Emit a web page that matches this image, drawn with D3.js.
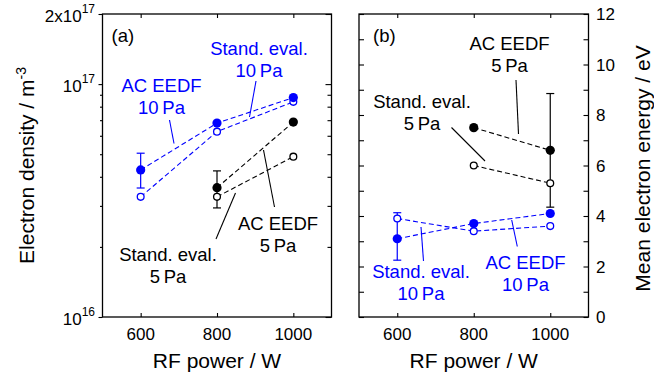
<!DOCTYPE html>
<html>
<head>
<meta charset="utf-8">
<script src="https://cdn.jsdelivr.net/npm/d3@7"></script>
<style>
  body { margin: 0; background: #fff; }
  svg { display: block; font-family: "Liberation Sans", Arial, sans-serif; }
</style>
</head>
<body>
<svg id="chart" width="654" height="379"></svg>
<script>
/* DATA */
const powers = [600, 800, 1000];
const powers5 = [800, 1000];
const xTicks = [600, 800, 1000];

// (a) electron density / m^-3
const neAc10 = [4.28e16, 6.80e16, 8.75e16];
const neStd10 = [3.28e16, 6.25e16, 8.39e16];
const neAc5 = [3.59e16, 6.87e16];
const neStd5 = [3.28e16, 4.88e16];
const neAc10Err = [[3.58e16, 5.05e16], null, null];
const neAc5Err = [[2.94e16, 4.24e16], null];
const neMajor = [1e16, 1e17, 2e17];
const neMinor = [2e16, 3e16, 4e16, 5e16, 6e16, 7e16, 8e16, 9e16];

// (b) mean electron energy / eV
const eAc10 = [3.1, 3.7, 4.1];
const eStd10 = [3.9, 3.4, 3.6];
const eAc5 = [7.5, 6.6];
const eStd5 = [6.0, 5.3];
const eAc10Err = [[2.25, 4.13], null, null];
const eAc5Err = [null, [4.35, 8.85]];
const eTicks = [0, 2, 4, 6, 8, 10, 12];
const eMinor = [1, 3, 5, 7, 9, 11];

const BLUE = "#0000ff";
const svg = d3.select("#chart");
const yTop = 14, yBot = 317;

const xA = d3.scaleLinear().domain([500, 1100]).range([102.5, 331.5]);
const yA = d3.scaleLog().domain([1e16, 2e17]).range([yBot, yTop]);
const xB = d3.scaleLinear().domain([500, 1100]).range([359, 588.5]);
const yB = d3.scaleLinear().domain([0, 12]).range([yBot, yTop]);

/* AXES (ticks only, labels drawn by hand) */
function ticks(axis, at) {
  svg.append("g").attr("transform", at).call(axis)
    .call(s => s.select(".domain").remove())
    .call(s => s.selectAll("line").attr("stroke", "#000").attr("stroke-width", 1.1));
}
[xA, xB].forEach(x => {
  ticks(d3.axisBottom(x).tickValues(xTicks).tickSize(-4).tickFormat(""), `translate(0,${yBot})`);
  ticks(d3.axisTop(x).tickValues(xTicks).tickSize(-4).tickFormat(""), `translate(0,${yTop})`);
});
// panel a: left ticks point out, right ticks point in
ticks(d3.axisLeft(yA).tickValues(neMajor).tickSize(4).tickFormat(""), `translate(${xA.range()[0]},0)`);
ticks(d3.axisLeft(yA).tickValues(neMinor).tickSize(2.5).tickFormat(""), `translate(${xA.range()[0]},0)`);
ticks(d3.axisRight(yA).tickValues(neMajor).tickSize(-6).tickFormat(""), `translate(${xA.range()[1]},0)`);
ticks(d3.axisRight(yA).tickValues(neMinor).tickSize(-4).tickFormat(""), `translate(${xA.range()[1]},0)`);
// panel b: all inward
ticks(d3.axisLeft(yB).tickValues(eTicks.concat(eMinor)).tickSize(-5).tickFormat(""), `translate(${xB.range()[0]},0)`);
ticks(d3.axisRight(yB).tickValues(eTicks.concat(eMinor)).tickSize(-5).tickFormat(""), `translate(${xB.range()[1]},0)`);

// frames
[xA, xB].forEach(x => {
  svg.append("rect")
    .attr("x", x.range()[0]).attr("y", yTop)
    .attr("width", x.range()[1] - x.range()[0]).attr("height", yBot - yTop)
    .attr("fill", "none").attr("stroke", "#000").attr("stroke-width", 1.3);
});

// x tick labels + titles
[xA, xB].forEach(x => {
  svg.append("g").selectAll("text").data(xTicks).join("text")
    .attr("x", d => x(d)).attr("y", 340)
    .attr("text-anchor", "middle").attr("font-size", 17)
    .text(d => d);
  svg.append("text")
    .attr("x", x(800)).attr("y", 368)
    .attr("text-anchor", "middle").attr("font-size", 21)
    .text("RF power / W");
});

// panel a y labels
const neLabels = ["10", "10", "2x10"];
neMajor.forEach((v, i) => {
  const t = svg.append("text")
    .attr("x", 95).attr("y", yA(v) + 7.5)
    .attr("text-anchor", "end").attr("font-size", 17)
    .text(neLabels[i]);
  t.append("tspan").attr("dy", -9).attr("font-size", 12)
    .text(Math.floor(Math.log10(v)));
});
const tA = svg.append("text")
  .attr("transform", `translate(34,${(yTop + yBot) / 2}) rotate(-90)`)
  .attr("text-anchor", "middle").attr("font-size", 21)
  .text("Electron density / m");
tA.append("tspan").attr("dy", -8).attr("font-size", 14).text("-3");

// panel b y labels (right side)
svg.append("g").selectAll("text").data(eTicks).join("text")
  .attr("x", 596).attr("y", d => yB(d) + 6)
  .attr("font-size", 17)
  .text(d => d);
svg.append("text")
  .attr("transform", `translate(650,${(yTop + yBot) / 2 + 3}) rotate(-90)`)
  .attr("text-anchor", "middle").attr("font-size", 21)
  .text("Mean electron energy / eV");

/* SERIES */
const series = [
  { x: xA, y: yA, px: powers, v: neStd10, err: null, color: BLUE, filled: false },
  { x: xA, y: yA, px: powers, v: neAc10, err: neAc10Err, color: BLUE, filled: true },
  { x: xA, y: yA, px: powers5, v: neStd5, err: null, color: "#000", filled: false },
  { x: xA, y: yA, px: powers5, v: neAc5, err: neAc5Err, color: "#000", filled: true },
  { x: xB, y: yB, px: powers, v: eStd10, err: null, color: BLUE, filled: false },
  { x: xB, y: yB, px: powers, v: eAc10, err: eAc10Err, color: BLUE, filled: true },
  { x: xB, y: yB, px: powers5, v: eStd5, err: null, color: "#000", filled: false },
  { x: xB, y: yB, px: powers5, v: eAc5, err: eAc5Err, color: "#000", filled: true }
];

series.forEach(s => {
  const pts = s.px.map((p, i) => [s.x(p), s.y(s.v[i])]);
  svg.append("path")
    .attr("d", d3.line()(pts))
    .attr("fill", "none").attr("stroke", s.color)
    .attr("stroke-width", 1.1).attr("stroke-dasharray", "5,3");
});
series.forEach(s => {
  if (!s.err) return;
  s.err.forEach((e, i) => {
    if (!e) return;
    const cx = s.x(s.px[i]);
    const g = svg.append("g").attr("stroke", s.color).attr("stroke-width", 1.2);
    g.append("line").attr("x1", cx).attr("x2", cx).attr("y1", s.y(e[0])).attr("y2", s.y(e[1]));
    e.forEach(v => {
      g.append("line").attr("x1", cx - 4).attr("x2", cx + 4).attr("y1", s.y(v)).attr("y2", s.y(v));
    });
  });
});
series.forEach(s => {
  svg.append("g").selectAll("circle").data(s.v).join("circle")
    .attr("cx", (d, i) => s.x(s.px[i])).attr("cy", d => s.y(d))
    .attr("r", s.filled ? 4.6 : 3.4)
    .attr("fill", s.filled ? s.color : "#fff")
    .attr("stroke", s.color).attr("stroke-width", s.filled ? 0 : 1.3);
});

/* ANNOTATIONS */
const notes = [
  { t: "(a)", x: 111.5, y: 42, c: "#000", a: "start" },
  { t: "(b)", x: 373, y: 42, c: "#000", a: "start" },
  { lines: ["Stand. eval.", "10\u2009Pa"], x: 259, y: 54.5, c: BLUE, leader: [256, 81, 249.5, 117] },
  { lines: ["AC EEDF", "10\u2009Pa"], x: 161.5, y: 91.5, c: BLUE, leader: [169.5, 120, 174, 143.5] },
  { lines: ["AC EEDF", "5\u2009Pa"], x: 278, y: 229.5, c: "#000", leader: [263.5, 150, 274.5, 207] },
  { lines: ["Stand. eval.", "5\u2009Pa"], x: 168, y: 260.5, c: "#000", leader: [216, 239, 235.5, 193] },
  { lines: ["AC EEDF", "5\u2009Pa"], x: 509.5, y: 50, c: "#000", leader: [516, 80, 518.5, 134] },
  { lines: ["Stand. eval.", "5\u2009Pa"], x: 422, y: 108, c: "#000", leader: [451.5, 127.5, 485, 161] },
  { lines: ["Stand. eval.", "10\u2009Pa"], x: 421, y: 277.5, c: BLUE, leader: [423.5, 261, 421, 227] },
  { lines: ["AC EEDF", "10\u2009Pa"], x: 525.5, y: 269, c: BLUE, leader: [517.3, 246.5, 511.7, 220] }
];
notes.forEach(n => {
  if (n.leader) {
    svg.append("line")
      .attr("x1", n.leader[0]).attr("y1", n.leader[1])
      .attr("x2", n.leader[2]).attr("y2", n.leader[3])
      .attr("stroke", n.c).attr("stroke-width", 1.1);
  }
  const lines = n.lines || [n.t];
  lines.forEach((l, i) => {
    svg.append("text")
      .attr("x", n.x).attr("y", n.y + i * 22)
      .attr("text-anchor", n.a || "middle")
      .attr("font-size", 18.5).attr("fill", n.c)
      .text(l);
  });
});
</script>
</body>
</html>
